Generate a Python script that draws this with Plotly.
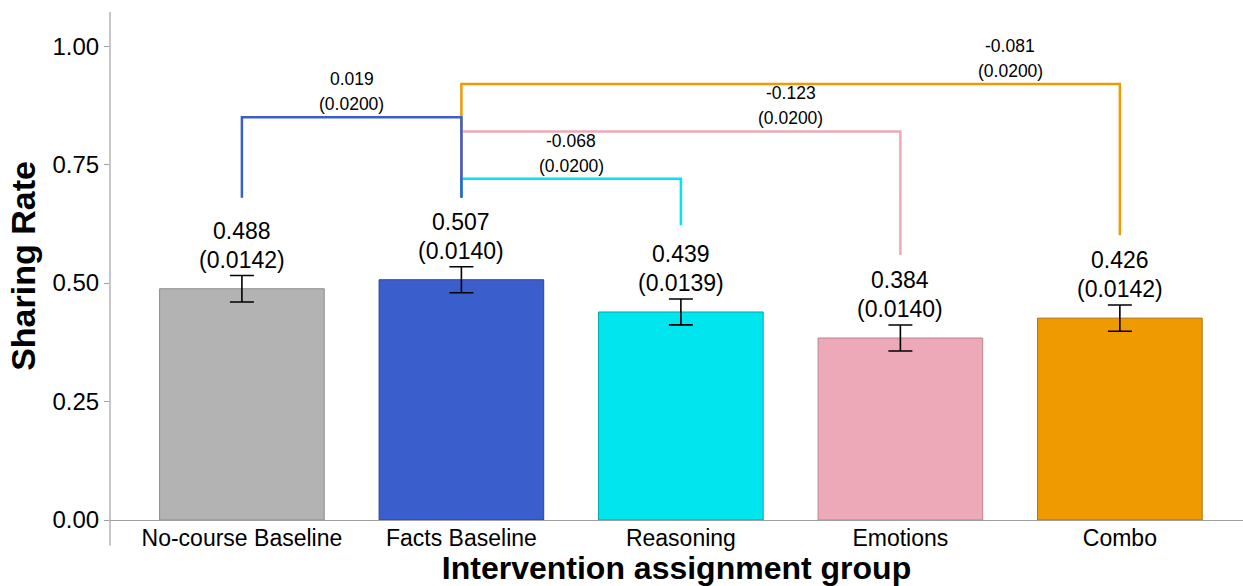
import plotly.graph_objects as go

groups = ["No-course Baseline", "Facts Baseline", "Reasoning", "Emotions", "Combo"]
rates = [0.488, 0.507, 0.439, 0.384, 0.426]
std_errs = [0.0142, 0.0140, 0.0139, 0.0140, 0.0142]
bar_colors = ["#b3b3b3", "#3a5fcd", "#00e5ee", "#eea9b8", "#ee9a00"]
edge_colors = ["#8c8c8c", "#2a4499", "#00a8ae", "#b98490", "#b07200"]

# Pairwise contrasts; drawn back to front so the blue bracket sits on top
contrast_from = [1, 1, 1, 0]
contrast_to = [4, 3, 2, 1]
contrast_diff = ["-0.081", "-0.123", "-0.068", "0.019"]
contrast_se = ["(0.0200)", "(0.0200)", "(0.0200)", "(0.0200)"]
contrast_level = [0.92, 0.82, 0.72, 0.85]
contrast_left_end = [0.68, 0.68, 0.68, 0.68]
contrast_right_end = [0.601, 0.559, 0.622, 0.68]
contrast_label_x = [3.5, 2.5, 1.5, 0.5]
contrast_colors = ["#ee9a00", "#eea9b8", "#00e5ee", "#3a5fcd"]

ci = [1.96 * s for s in std_errs]

fig = go.Figure()
fig.add_trace(go.Bar(
    x=list(range(len(groups))), y=rates, width=0.75,
    marker=dict(color=bar_colors, line=dict(color=edge_colors, width=1)),
    error_y=dict(type="data", array=ci, visible=True, color="black", thickness=1.6, width=12),
    showlegend=False, hoverinfo="skip",
))

FONT = "Liberation Sans, Arial, sans-serif"

for i in range(len(groups)):
    top = rates[i] + ci[i]
    fig.add_annotation(x=i, y=top, text=f"({std_errs[i]:.4f})", showarrow=False,
                       yanchor="bottom", yshift=1, font=dict(size=23, color="black", family=FONT))
    fig.add_annotation(x=i, y=top, text=f"{rates[i]:.3f}", showarrow=False,
                       yanchor="bottom", yshift=30, font=dict(size=23, color="black", family=FONT))

for k in range(len(contrast_from)):
    a, b = contrast_from[k], contrast_to[k]
    fig.add_trace(go.Scatter(
        x=[a, a, b, b],
        y=[contrast_left_end[k], contrast_level[k], contrast_level[k], contrast_right_end[k]],
        mode="lines", line=dict(color=contrast_colors[k], width=2.5),
        showlegend=False, hoverinfo="skip",
    ))
    fig.add_annotation(x=contrast_label_x[k], y=contrast_level[k], text=contrast_se[k],
                       showarrow=False, yanchor="bottom", yshift=1,
                       font=dict(size=17.5, color="black", family=FONT))
    fig.add_annotation(x=contrast_label_x[k], y=contrast_level[k], text=contrast_diff[k],
                       showarrow=False, yanchor="bottom", yshift=26,
                       font=dict(size=17.5, color="black", family=FONT))

# y axis line continues a little below the baseline
fig.add_shape(type="line", xref="paper", yref="paper", x0=0, x1=0, y0=-0.05, y1=1,
              line=dict(color="#a0a0a0", width=1.2))

fig.update_layout(
    width=1243, height=586,
    margin=dict(l=110, r=0, t=12, b=66),
    plot_bgcolor="white", paper_bgcolor="white",
    font=dict(family=FONT, color="black"),
    bargap=0.25,
    xaxis=dict(
        range=[-0.601, 4.561], tickmode="array", tickvals=list(range(len(groups))), ticktext=groups,
        showline=True, linecolor="#a0a0a0", linewidth=1.2, ticks="", showgrid=False, zeroline=False,
        tickfont=dict(size=23, family=FONT, color="black"), ticklabelstandoff=-3,
        title=dict(text="<b>Intervention assignment group</b>", font=dict(size=32, family=FONT, color="black"),
                   standoff=9),
    ),
    yaxis=dict(
        range=[0, 1.072], tickvals=[0, 0.25, 0.5, 0.75, 1.0], ticktext=["0.00", "0.25", "0.50", "0.75", "1.00"],
        showline=False, ticks="outside", ticklen=5, tickcolor="#a0a0a0", tickwidth=1,
        showgrid=False, zeroline=False,
        tickfont=dict(size=24, family=FONT, color="black"),
        title=dict(text="<b>Sharing Rate</b>", font=dict(size=34, family=FONT, color="black"), standoff=6),
    ),
)

fig.write_html("out.html")
